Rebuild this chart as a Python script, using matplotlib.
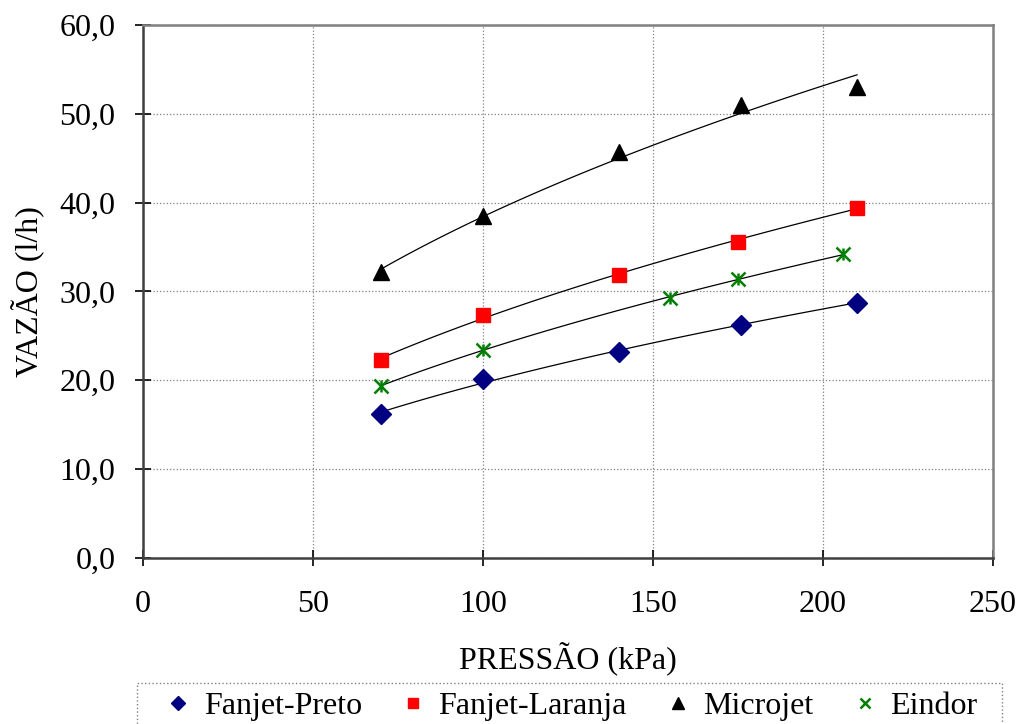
import numpy as np
import matplotlib
matplotlib.use('Agg')
from matplotlib import pyplot as plt
from matplotlib.patches import Rectangle
from matplotlib.ticker import FuncFormatter

plt.rcParams['font.family'] = ['Liberation Serif', 'DejaVu Serif']

# readings taken off the reference chart
p_preto = [70, 100, 140, 176, 210]
q_preto = [16.2, 20.2, 23.2, 26.2, 28.7]

p_laranja = [70, 100, 140, 175, 210]
q_laranja = [22.3, 27.4, 31.9, 35.6, 39.4]

p_micro = [70, 100, 140, 176, 210]
q_micro = [32.2, 38.5, 45.7, 51.0, 53.0]

p_eindor = [70, 100, 155, 175, 206]
q_eindor = [19.4, 23.4, 29.3, 31.4, 34.2]

series = [
    ('Fanjet-Preto', p_preto, q_preto, 'D', '#000080', 10),
    ('Fanjet-Laranja', p_laranja, q_laranja, 's', '#ff0000', 9.5),
    ('Microjet', p_micro, q_micro, '^', '#000000', 12),
    ('Eindor', p_eindor, q_eindor, 'x', '#008000', 10),
]


def power_fit(x, y):
    # excel-style power trendline, y = a * x^b
    b, ln_a = np.polyfit(np.log(x), np.log(y), 1)
    xs = np.linspace(min(x), max(x), 100)
    return xs, np.exp(ln_a) * xs ** b


fig = plt.figure(figsize=(10.22, 7.24), dpi=100)
ax = fig.add_axes([0.14, 0.2293, 0.8316, 0.7362])

for name, x, y, mk, col, ms in series:
    xs, ys = power_fit(np.array(x, float), np.array(y, float))
    ax.plot(xs, ys, color='black', lw=0.9, zorder=2)
    if mk == 'x':
        ax.plot(x, y, linestyle='none', marker='x', ms=ms, mew=1.8,
                color=col, label=name, zorder=3)
        ax.plot(x, y, linestyle='none', marker='|', ms=ms * 0.9, mew=1.8,
                color=col, zorder=3)
    else:
        ax.plot(x, y, linestyle='none', marker=mk, ms=ms, color=col,
                markeredgecolor=col, label=name, zorder=3)

ax.set_xlim(0, 250)
ax.set_ylim(0, 60)
ax.set_xticks(range(0, 251, 50))
ax.set_yticks(range(0, 61, 10))
ax.yaxis.set_major_formatter(FuncFormatter(lambda v, pos: f'{v:.1f}'.replace('.', ',')))
ax.grid(True, color='#808080', linestyle=':', lw=0.9)
ax.set_axisbelow(True)

ax.tick_params(direction='inout', length=12, width=1.2, labelsize=23,
               colors='black')
ax.tick_params(axis='y', pad=14)
ax.tick_params(axis='x', pad=17)
for s in ['left', 'bottom']:
    ax.spines[s].set_color('#404040')
    ax.spines[s].set_linewidth(1.8)
for s in ['top', 'right']:
    ax.spines[s].set_color('#808080')
    ax.spines[s].set_linewidth(1.8)

ax.set_xlabel('PRESSÃO (kPa)', fontsize=23, labelpad=17)
ax.set_ylabel('VAZÃO (l/h)', fontsize=23, labelpad=10)

# legend box (runs off the bottom edge like the original)
fig.patches.append(Rectangle((137 / 1022, -0.01), 865 / 1022, 41 / 724 + 0.01,
                             transform=fig.transFigure, fill=False,
                             ec='#808080', ls=':', lw=1.0))

handles, labels = ax.get_legend_handles_labels()
leg = fig.legend(handles, labels, loc='upper center', ncol=4,
                 bbox_to_anchor=(573 / 1022, 1 - 685 / 724),
                 borderaxespad=0, fontsize=23, frameon=False,
                 markerscale=0.7, handlelength=0.6, handletextpad=0.5,
                 columnspacing=1.3, borderpad=0.2, numpoints=1)

plt.savefig('out.png', dpi=100)
